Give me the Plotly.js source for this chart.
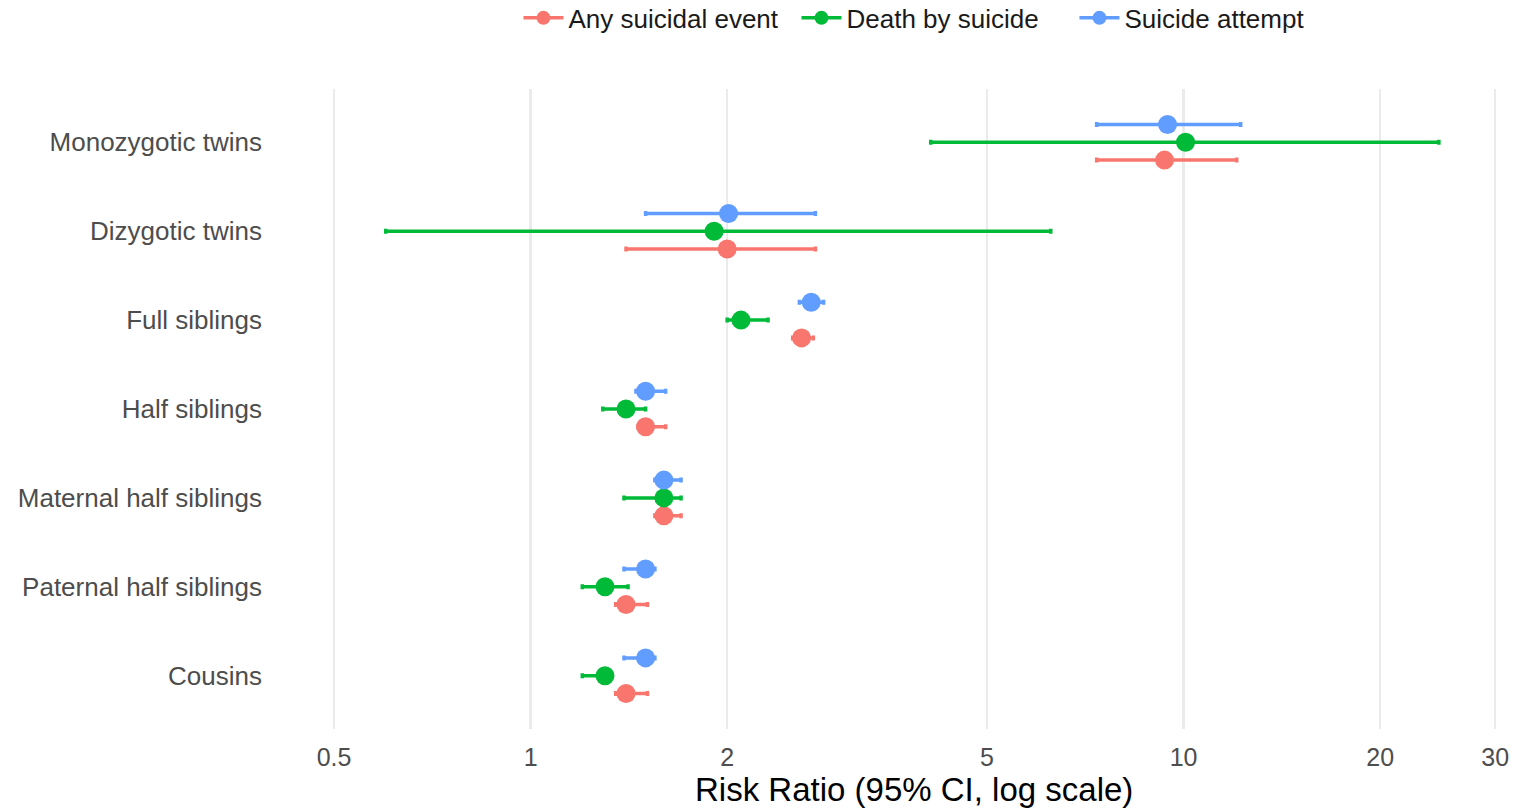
<!DOCTYPE html>
<html>
<head>
<meta charset="utf-8">
<script src="https://cdn.plot.ly/plotly-3.0.1.min.js"></script>
<style>
  html, body { margin: 0; padding: 0; background: #ffffff; overflow: hidden; }
  #chart { width: 1517px; height: 808px; }
</style>
</head>
<body>
<div id="chart"></div>
<script>
// ---- Data ----
const categories = ["Monozygotic twins", "Dizygotic twins", "Full siblings", "Half siblings",
                    "Maternal half siblings", "Paternal half siblings", "Cousins"];
const seriesNames = ["Any suicidal event", "Death by suicide", "Suicide attempt"];
const seriesColors = ["#F8766D", "#00BA38", "#619CFF"];

const anyEst   = [9.35, 2.00, 2.60, 1.50, 1.60, 1.40, 1.40];
const anyLo    = [7.36, 1.40, 2.52, 1.46, 1.55, 1.35, 1.35];
const anyHi    = [12.06, 2.73, 2.71, 1.61, 1.70, 1.51, 1.51];

const deathEst = [10.07, 1.91, 2.10, 1.40, 1.60, 1.30, 1.30];
const deathLo  = [4.10, 0.60, 2.00, 1.29, 1.39, 1.20, 1.20];
const deathHi  = [24.6, 6.26, 2.31, 1.50, 1.70, 1.41, 1.33];

const attEst   = [9.45, 2.01, 2.69, 1.50, 1.60, 1.50, 1.50];
const attLo    = [7.36, 1.50, 2.58, 1.45, 1.55, 1.39, 1.39];
const attHi    = [12.23, 2.73, 2.81, 1.61, 1.70, 1.55, 1.55];

const xTickVals = [0.5, 1, 2, 5, 10, 20, 30];
const xTickText = ["0.5", "1", "2", "5", "10", "20", "30"];
const xTitle = "Risk Ratio (95% CI, log scale)";

// ---- Build traces ----
const est = [anyEst, deathEst, attEst];
const lo  = [anyLo, deathLo, attLo];
const hi  = [anyHi, deathHi, attHi];
const dodge = [-0.2, 0, 0.2];
const n = categories.length;
const FONT = "'Liberation Sans', Arial, Helvetica, sans-serif";

const traces = [];
// legend-only entries (point + line glyph)
seriesNames.forEach((name, s) => {
  traces.push({
    type: "scatter", mode: "lines+markers", name: name,
    x: [null], y: [null],
    line: { color: seriesColors[s], width: 3.5 },
    marker: { color: seriesColors[s], size: 14 },
    showlegend: true, hoverinfo: "skip"
  });
});
// data traces
seriesNames.forEach((name, s) => {
  const ys = categories.map((c, i) => (n - 1 - i) + dodge[s]);
  traces.push({
    type: "scatter", mode: "markers", name: name,
    x: est[s], y: ys,
    marker: { color: seriesColors[s], size: 19 },
    error_x: {
      type: "data", symmetric: false,
      array: est[s].map((v, i) => hi[s][i] - v),
      arrayminus: est[s].map((v, i) => v - lo[s][i]),
      color: seriesColors[s], thickness: 3.5, width: 2.5
    },
    showlegend: false
  });
});

const layout = {
  width: 1517, height: 808,
  margin: { l: 276, r: 0, t: 89, b: 79, autoexpand: false },
  paper_bgcolor: "#ffffff", plot_bgcolor: "#ffffff",
  font: { family: FONT, color: "#000000" },
  showlegend: true,
  legend: {
    orientation: "h", x: 0.5314, xanchor: "center",
    y: 1.111, yanchor: "middle",
    font: { family: FONT, size: 26, color: "#1A1A1A" },
    itemwidth: 40, traceorder: "normal",
    entrywidth: 223, entrywidthmode: "pixels"
  },
  xaxis: {
    type: "log",
    range: [-0.3899, 1.5106],
    tickvals: xTickVals, ticktext: xTickText,
    showgrid: true, gridcolor: "#EBEBEB", gridwidth: 2.5,
    zeroline: false, showline: false, ticks: "",
    tickfont: { family: FONT, size: 25, color: "#4D4D4D" },
    ticklabelstandoff: 11
  },
  yaxis: {
    range: [-0.6, 6.6],
    tickvals: categories.map((c, i) => n - 1 - i), ticktext: categories,
    showgrid: false, zeroline: false, showline: false, ticks: "",
    tickfont: { family: FONT, size: 26, color: "#4D4D4D" },
    ticklabelstandoff: 13
  },
  annotations: [{
    text: xTitle, showarrow: false,
    xref: "paper", yref: "paper", x: 0.5145, xanchor: "center",
    y: -0.0953, yanchor: "middle",
    font: { family: FONT, size: 33, color: "#000000" }
  }]
};

Plotly.newPlot("chart", traces, layout, { displayModeBar: false, staticPlot: true });
</script>
</body>
</html>
